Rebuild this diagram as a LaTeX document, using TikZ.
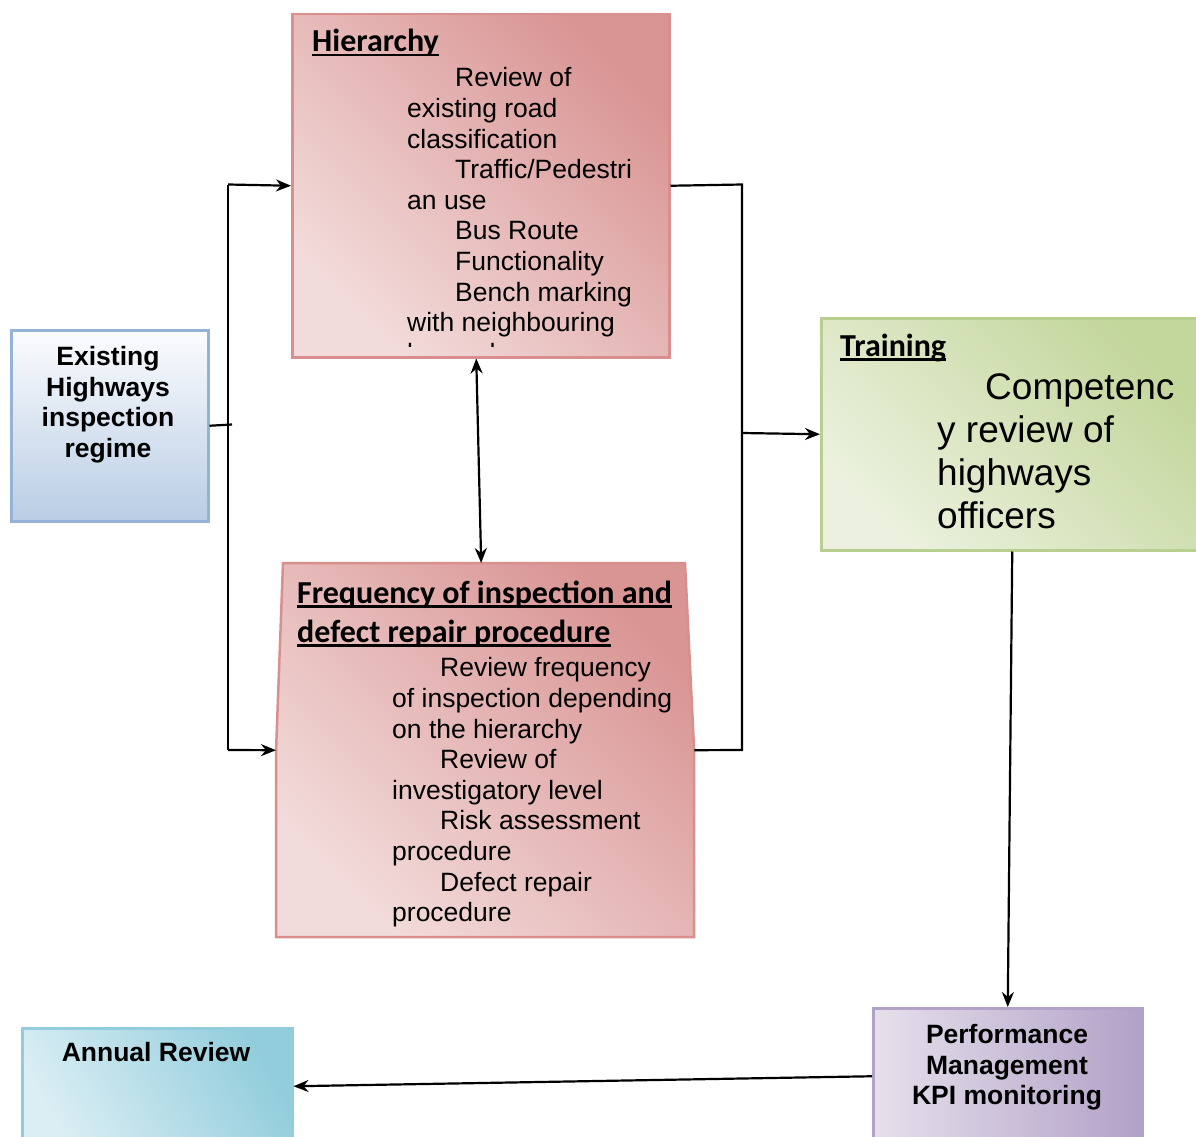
\documentclass[tikz,border=0pt]{standalone}
\usepackage{fontspec}
\setmainfont{Liberation Sans}
\newfontfamily\calib{Carlito}
\usetikzlibrary{arrows.meta}
\definecolor{pinkL}{HTML}{F2DCDB}
\definecolor{pinkD}{HTML}{D99594}
\definecolor{pinkB}{HTML}{D88F8E}
\definecolor{blueL}{HTML}{FBFCFE}
\definecolor{blueD}{HTML}{B9CDE5}
\definecolor{blueB}{HTML}{95B3D7}
\definecolor{greenL}{HTML}{EBF1DE}
\definecolor{greenD}{HTML}{C3D69B}
\definecolor{greenB}{HTML}{B9CF8F}
\definecolor{purpL}{HTML}{E6E0EC}
\definecolor{purpD}{HTML}{B2A1C7}
\definecolor{purpB}{HTML}{B3A2C7}
\definecolor{cyanL}{HTML}{DBEEF4}
\definecolor{cyanD}{HTML}{92CDDC}
\definecolor{cyanB}{HTML}{93CDDD}
\newcommand\ulin[1]{\setbox0\hbox{#1}\rlap{\rule[-4.5pt]{\wd0}{2.2pt}}\box0}
\tikzset{
  x=1pt, y=-1pt,
  boxbase/.style={rectangle, anchor=north west, inner sep=0, line width=2.5pt},
  conn/.style={line width=2.2pt, draw=black},
  arr/.style={conn, -{Stealth[length=15pt,width=12pt]}},
  darr/.style={conn, {Stealth[length=15pt,width=12pt]}-{Stealth[length=15pt,width=12pt]}},
  bodytxt/.style={anchor=north west, inner sep=0, align=left, font=\fontsize{26.5}{30.6}\selectfont},
  bigtxt/.style={anchor=north west, inner sep=0, align=left, font=\fontsize{37}{43}\selectfont},
  boldtxt/.style={inner sep=0, align=center, font=\bfseries\fontsize{26.5}{30.6}\selectfont},
  headtxt/.style={anchor=base west, inner sep=0, font=\calib\bfseries\fontsize{32}{39}\selectfont},
}
\begin{document}
\begin{tikzpicture}
\useasboundingbox (0,0) rectangle (1196,1137);
\clip (0,0) rectangle (1196,1137);

% Boxes
\node[boxbase, draw=blueB, top color=blueL, bottom color=blueD, minimum width=197pt, minimum height=191pt] (exist) at (10,329) {};
\node[boxbase, draw=pinkB, bottom color=pinkL, top color=pinkD, shading angle=-45, minimum width=377pt, minimum height=343pt] (hier) at (291,13) {};
\path[bottom color=pinkL, top color=pinkD, shading angle=-45] (283,563) -- (685,563) -- (694,748) -- (694,937) -- (276,937) -- (276,752) -- cycle;
\draw[draw=pinkB, line width=2.5pt] (283,563) -- (685,563) -- (694,748) -- (694,937) -- (276,937) -- (276,752) -- cycle;
\node[rectangle, anchor=north west, inner sep=0, minimum width=418pt, minimum height=374pt] (freq) at (276,563) {};
\node[boxbase, draw=greenB, bottom color=greenL, top color=greenD, shading angle=-45, minimum width=384pt, minimum height=232pt] (train) at (820,317) {};
\node[boxbase, draw=purpB, left color=purpL, right color=purpD, minimum width=269pt, minimum height=140pt] (perf) at (872,1007) {};
\node[boxbase, draw=cyanB, bottom color=cyanL, top color=cyanD, shading angle=-60, minimum width=270pt, minimum height=120pt] (annual) at (21,1027) {};

% Texts
\node[boldtxt, anchor=north] (existt) at (108,346) {Existing\\Highways\\inspection\\regime};
\node[headtxt] (hierh) at (312,52) {\ulin{Hierarchy}};
\begin{scope}
\clip (291,13) rectangle (668,346.5);
\node[bodytxt] (hiert) at (407,67.5) {\hspace*{48pt}Review of\\existing road\\classification\\\hspace*{48pt}Traffic/Pedestri\\an use\\\hspace*{48pt}Bus Route\\\hspace*{48pt}Functionality\\\hspace*{48pt}Bench marking\\with neighbouring\\boroughs};
\end{scope}
\node[headtxt] (freqh1) at (297,603) {\ulin{Frequency of inspection and}};
\node[headtxt] (freqh2) at (297,642) {\ulin{defect repair procedure}};
\node[bodytxt] (freqt) at (392,657.5) {\hspace*{48pt}Review frequency\\of inspection depending\\on the hierarchy\\\hspace*{48pt}Review of\\investigatory level\\\hspace*{48pt}Risk assessment\\procedure\\\hspace*{48pt}Defect repair\\procedure};
\node[headtxt] (trainh) at (840,356) {\ulin{Training}};
\node[bigtxt] (traint) at (937,373) {\hspace*{48pt}Competenc\\y review of\\highways\\officers};
\node[boldtxt, anchor=north] (perft) at (1007,1024) {Performance\\Management\\KPI monitoring};
\node[boldtxt, anchor=base] (annualt) at (156,1061) {Annual Review};

% Connectors
\coordinate (jl) at (228,424.5);
\coordinate (jlt) at (228,184.5);
\coordinate (jlb) at (228,750);
\coordinate (jr) at (742,433);
\coordinate (jrt) at (742,184.5);
\coordinate (jrb) at (742,750);
\draw[conn] (exist.east) -- ([xshift=4pt]jl);
\draw[conn] (jlt) -- (jlb);
\draw[arr] (jlt) -- (hier.west);
\draw[arr] (jlb) -- (freq.west);
\draw[conn] (hier.east) -- (jrt) -- (jrb) -- (freq.east);
\draw[arr] (jr) -- (train.west);
\draw[darr] ([xshift=-4.5pt]hier.south) -- ([xshift=-4pt]freq.north);
\draw[arr] ([xshift=-1pt]train.south) -- (perf.north);
\draw[arr] ([yshift=2pt]perf.west) -- ([yshift=2pt]annual.east);
\end{tikzpicture}
\end{document}
